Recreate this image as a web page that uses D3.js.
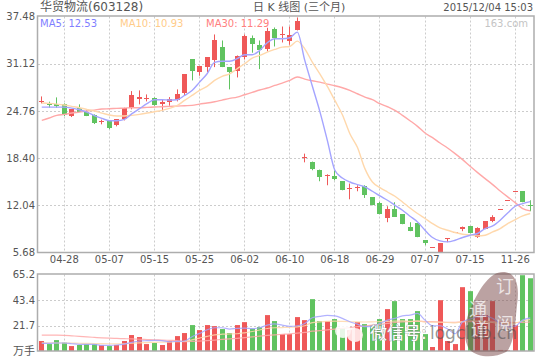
<!DOCTYPE html>
<html><head><meta charset="utf-8">
<script src="https://cdn.jsdelivr.net/npm/d3@7"></script>
<style>
html,body{margin:0;padding:0;background:#fff;}
svg{display:block;}
text{font-family:"DejaVu Sans","Noto Sans CJK SC",sans-serif;}
</style></head><body>
<svg id="c" width="540" height="360"></svg>
<script>
const tickLabels=["04-28","05-07","05-15","05-25","06-02","06-10","06-18","06-29","07-07","07-15","11-26"];
const tickIndex=[3,9,15,21,27,33,39,45,51,57,63];
const priceTicks=[37.48,31.12,24.76,18.40,12.04,5.68];
const volTicks=[65.2,43.4,21.7];
const open=[25.97,25.77,25.64,25.73,24.06,25.19,24.66,24.25,23.26,23.48,22.81,23.62,25.14,26.31,26.35,26.54,25.64,25.95,26.18,27.16,31.69,29.94,30.66,31.56,33.31,30.62,30.08,32.00,34.65,33.58,33.04,35.86,34.96,34.16,35.73,18.41,17.83,16.85,16.04,16.04,15.28,14.24,14.38,14.64,13.12,12.31,10.34,11.60,10.83,9.08,9.62,7.33,6.30,5.68,7.51,8.32,8.86,9.22,7.78,8.82,9.89,11.41,12.62,13.84,13.93,12.09];
const high=[26.71,26.00,26.58,25.77,24.97,25.64,24.83,24.29,23.58,23.53,23.62,25.19,27.43,27.52,26.98,26.58,26.35,26.62,27.66,29.68,31.69,30.79,31.96,35.06,34.25,30.62,32.23,35.06,34.92,34.25,35.96,36.00,36.13,36.13,37.35,19.00,17.93,16.85,16.22,16.76,15.28,14.97,14.74,14.74,13.12,12.49,11.91,12.45,10.83,9.76,9.62,7.33,6.39,6.93,7.60,8.41,9.18,9.22,9.08,9.89,10.70,11.51,12.72,13.93,13.93,12.72];
const low=[25.77,25.19,25.19,24.06,23.93,24.60,24.06,22.99,22.95,22.31,22.68,23.48,24.97,25.64,26.04,25.46,24.74,25.46,26.04,26.85,28.87,29.50,29.98,30.66,30.66,27.66,29.27,31.69,32.60,30.39,32.77,33.44,33.98,33.67,35.60,17.83,16.76,15.28,14.74,15.41,14.06,12.85,13.93,13.03,12.04,10.83,9.76,10.47,9.49,8.55,7.74,6.66,6.30,5.68,7.07,8.32,8.55,8.28,7.64,8.82,9.76,11.41,12.62,13.84,12.45,11.24];
const close=[26.11,25.50,25.37,24.29,24.97,24.70,24.16,23.12,23.44,22.41,23.62,25.14,26.85,26.58,26.54,25.64,25.95,26.31,26.98,29.68,30.12,30.79,31.96,34.25,30.66,29.98,32.10,34.79,33.81,32.91,35.46,34.65,35.06,34.92,36.94,18.51,16.93,15.85,16.12,15.68,14.06,14.33,14.56,13.43,12.04,10.83,11.60,10.57,9.49,8.55,7.74,6.93,6.39,6.93,7.60,8.41,9.18,8.28,8.95,9.89,10.43,11.51,12.72,13.93,12.45,11.91];
const ma5=[25.27,25.27,25.27,25.27,25.14,24.92,24.60,24.12,23.75,23.44,23.44,23.62,24.39,25.06,25.73,26.27,26.27,26.22,26.27,26.85,27.52,28.64,29.77,31.29,31.46,31.46,31.79,32.33,32.33,32.90,33.94,34.48,34.48,34.61,35.37,31.56,28.11,24.70,20.79,16.76,15.72,15.18,14.83,14.51,13.93,13.30,12.72,12.04,11.37,10.57,9.80,8.68,7.70,7.24,7.11,7.33,7.70,8.01,8.24,8.91,9.26,10.03,11.01,11.91,12.27,12.53];
const ma10=[25.82,25.77,25.68,25.55,25.37,25.19,24.97,24.74,24.47,24.20,24.07,24.07,24.16,24.29,24.47,24.65,24.83,25.10,25.46,26.17,26.85,27.52,28.06,28.87,29.41,29.76,30.44,31.11,31.87,32.23,32.68,33.04,33.35,33.44,34.16,33.13,31.33,29.76,28.06,26.17,24.25,21.69,19.85,16.98,15.18,14.43,13.83,13.26,12.49,11.68,10.93,10.26,9.58,8.99,8.68,8.37,8.14,8.05,7.92,8.01,8.45,8.91,9.58,10.12,10.61,10.93];
const ma30=[23.48,23.80,24.16,24.29,24.47,24.60,24.74,24.87,25.01,25.05,25.10,25.14,25.19,25.19,25.23,25.28,25.32,25.37,25.41,25.46,25.50,25.68,25.82,26.00,26.22,26.44,26.62,26.94,27.25,27.57,27.84,28.19,28.51,28.87,29.32,29.05,28.82,28.64,28.37,28.15,27.88,27.52,27.07,26.62,26.27,25.73,25.32,24.83,24.16,23.44,22.68,21.78,21.15,20.43,19.76,19.00,18.19,17.29,16.44,15.63,14.83,13.97,13.17,12.40,11.60,11.29];
const volume=[8.5,5.9,9.3,7.1,4.2,5.1,5.9,5.9,5.1,4.2,5.1,8.5,13.6,11.9,5.9,6.8,5.1,8.5,12.7,15.3,22.1,17.8,22.1,21.2,18.7,15.3,22.1,24.6,19.0,20.4,30.6,25.5,14.4,14.4,28.9,26.3,44.2,25.5,25.5,27.2,19.3,17.8,24.6,22.9,22.1,27.2,35.7,42.5,27.2,27.2,34.0,14.4,3.4,43.3,8.5,5.9,54.4,51.0,30.6,30.6,42.5,0.9,0.6,22.1,64.6,62.0];
const volMa5=[6.5,6.5,6.8,6.8,6.2,5.7,5.7,5.7,4.8,4.8,5.1,5.9,7.4,8.5,8.8,9.1,8.8,7.9,8.2,8.5,12.2,15.0,18.1,19.8,19.8,18.7,19.3,19.5,19.0,19.8,22.1,23.2,22.1,21.0,21.5,23.5,28.3,29.5,30.3,30.0,27.8,24.9,22.9,20.7,21.2,23.5,26.3,27.8,30.0,30.6,32.0,26.3,21.5,21.5,18.7,14.7,24.9,27.2,29.2,30.0,27.8,23.5,20.7,21.2,26.3,28.3];
const volMa10=[6.9,6.9,6.8,6.8,6.7,6.6,6.5,6.4,6.3,6.2,6.1,6.2,6.6,7.0,7.2,7.4,7.5,7.6,7.9,8.3,9.5,11.0,12.5,13.8,14.3,14.5,14.7,15.5,16.6,17.9,19.2,19.8,20.0,20.2,20.6,21.5,24.2,24.8,25.2,25.4,25.2,25.0,24.8,24.7,24.9,25.0,25.2,25.5,25.6,25.2,25.7,24.7,24.6,24.5,24.3,24.0,25.0,25.6,25.4,24.9,24.3,23.6,23.4,23.9,25.6,27.0];
const volMa30=[13.6,13.6,13.5,13.3,12.9,12.5,12.0,11.6,11.2,10.9,10.7,10.5,10.3,10.0,9.8,9.6,9.3,9.1,8.9,8.0,8.2,8.5,8.8,9.3,9.9,10.4,10.8,11.4,12.0,12.7,13.3,13.8,14.2,14.6,15.2,15.8,16.9,17.4,18.0,18.7,19.3,20.0,20.7,21.3,22.0,22.7,23.5,24.3,24.8,25.0,25.3,25.1,25.0,24.7,24.4,24.5,24.8,25.0,25.1,25.2,25.2,24.7,24.5,24.3,24.3,24.7];
const legend=[["MA5: 12.53","#7f7fff",40],["MA10: 10.93","#ffcc8a",120],["MA30: 11.29","#ff8080",206]];

const RED="#ef5858",GREEN="#60c360",FRAME="#adadad",GRID="#cccccc",TXT="#555555";
const svg=d3.select("#c");
const L=38,R=534,T=16.5,B=252.5,VT=274.5,VB=351;
const idx=d3.range(open.length);
const x=d3.scaleBand().domain(idx).range([L,R]);
const cx=i=>Math.round(x(i)+x.bandwidth()/2-0.5)+0.5;
const y=d3.scaleLinear().domain([priceTicks[5],priceTicks[0]]).range([B,T]);
const yv=d3.scaleLinear().domain([0,volTicks[0]]).range([VB,VT]);

function axes(){
  const gy=svg.append("g").attr("transform",`translate(${L},0)`).call(d3.axisLeft(y).tickValues(priceTicks).tickSize(0).tickPadding(3).tickFormat(d3.format(".2f")));
  gy.select(".domain").remove();
  const gv=svg.append("g").attr("transform",`translate(${L},0)`).call(d3.axisLeft(yv).tickValues(volTicks).tickSize(0).tickPadding(3).tickFormat(d3.format(".1f")));
  gv.select(".domain").remove();
  const xa=d3.axisBottom(x).tickValues(tickIndex).tickSize(0).tickPadding(0).tickFormat(d=>tickLabels[tickIndex.indexOf(d)]);
  const gx=svg.append("g").attr("transform",`translate(0,${B+1})`).call(xa);
  gx.select(".domain").remove();
  svg.selectAll("g .tick text").attr("font-size",10).attr("fill",TXT).style("font-family",'"DejaVu Sans",sans-serif');
  gx.selectAll("text").attr("dy","0.95em");
  const grid=svg.append("g").attr("stroke",GRID).attr("stroke-dasharray","2,2").attr("stroke-width",1);
  grid.selectAll(".h").data(priceTicks.slice(1,5)).join("line").attr("x1",L).attr("x2",R)
    .attr("y1",d=>Math.round(y(d))+0.5).attr("y2",d=>Math.round(y(d))+0.5);
  grid.selectAll(".hv").data(volTicks.slice(1)).join("line").attr("x1",L).attr("x2",R)
    .attr("y1",d=>Math.round(yv(d))+0.5).attr("y2",d=>Math.round(yv(d))+0.5);
  [[T,B],[VT,VB]].forEach(([a,b])=>{
    grid.append("g").selectAll("line").data(tickIndex).join("line").attr("x1",cx).attr("x2",cx).attr("y1",a).attr("y2",b);
  });
}
axes();

const col=i=>close[i]>=open[i]?RED:GREEN;
const cg=svg.append("g");
cg.selectAll("line").data(idx).join("line").attr("x1",cx).attr("x2",cx)
  .attr("y1",i=>y(high[i])).attr("y2",i=>y(low[i])).attr("stroke",col).attr("stroke-width",1);
cg.selectAll("rect").data(idx).join("rect").attr("x",i=>cx(i)-2.5).attr("width",5)
  .attr("y",i=>Math.round(y(Math.max(open[i],close[i]))))
  .attr("height",i=>Math.max(1,Math.round(y(Math.min(open[i],close[i]))-y(Math.max(open[i],close[i])))))
  .attr("fill",col);

const lineP=d3.line().x((d,i)=>x(i)+x.bandwidth()/2).y(d=>y(d)).curve(d3.curveMonotoneX);
[[ma30,"#ffa8a8"],[ma10,"#ffd8ac"],[ma5,"#a4a4ff"]].forEach(([d,c])=>{
  svg.append("path").attr("d",lineP(d)).attr("fill","none").attr("stroke",c).attr("stroke-width",1.4);
});

svg.append("g").selectAll("rect").data(idx).join("rect").attr("x",i=>cx(i)-2.5).attr("width",5)
  .attr("y",i=>yv(volume[i])).attr("height",i=>VB-yv(volume[i])).attr("fill",col);
const lineV=d3.line().x((d,i)=>x(i)+x.bandwidth()/2).y(d=>yv(d)).curve(d3.curveMonotoneX);
[[volMa30,"#ffa8a8"],[volMa10,"#ffd8ac"],[volMa5,"#a4a4ff"]].forEach(([d,c])=>{
  svg.append("path").attr("d",lineV(d)).attr("fill","none").attr("stroke",c).attr("stroke-width",1.2).attr("opacity",.85);
});

[[T,B],[VT,VB]].forEach(([a,b])=>{
  svg.append("rect").attr("x",L-0.5).attr("y",a-0.5).attr("width",R-L+0.5).attr("height",b-a+0.5)
    .attr("fill","none").attr("stroke",FRAME).attr("stroke-width",1.5);
});

const txt=(s,xx,yy,fs,fill,anchor)=>svg.append("text").text(s).attr("x",xx).attr("y",yy).attr("font-size",fs).attr("fill",fill).attr("text-anchor",anchor||"start");
txt("华贸物流(603128)",40,11,12,TXT);
txt("日 K 线图 (三个月)",253,11,11,TXT);
txt("2015/12/04 15:03",533,11,10,TXT,"end");
txt("万手",13,355,11,TXT);
txt("163.com",528,27,10,"#c4c4c4","end");
legend.forEach(([s,c,xx])=>txt(s,xx,27,10,c));

const wm=svg.append("g");
wm.append("path").attr("d","M503,272 C516,272 520,285 517,305 C515,325 514,345 506,352 C495,358 478,358 470,350 C462,340 464,322 472,305 C480,288 490,272 503,272 Z")
  .attr("fill","rgba(120,70,70,0.5)");
[["订",505,293],["阅",505,331],["通",478,316],["道",480,336]].forEach(([s,a,b])=>{
  wm.append("text").text(s).attr("x",a).attr("y",b).attr("text-anchor","middle").attr("font-size",18).attr("font-family","Noto Sans CJK SC").attr("fill","rgba(255,255,255,0.72)");
});
wm.append("ellipse").attr("cx",343).attr("cy",331).attr("rx",8).attr("ry",7).attr("fill","rgba(255,255,255,0.85)");
wm.append("ellipse").attr("cx",355).attr("cy",335).attr("rx",8).attr("ry",7).attr("fill","rgba(255,240,240,0.9)");
txt("微信号:",370,339,17,"#fff").attr("stroke","#8a8a8a").attr("stroke-width",.6).attr("paint-order","stroke").attr("font-family","Noto Sans CJK SC");
txt("logclub.cn",430,339,17,"rgba(80,80,80,0.6)");
</script>
</body></html>
